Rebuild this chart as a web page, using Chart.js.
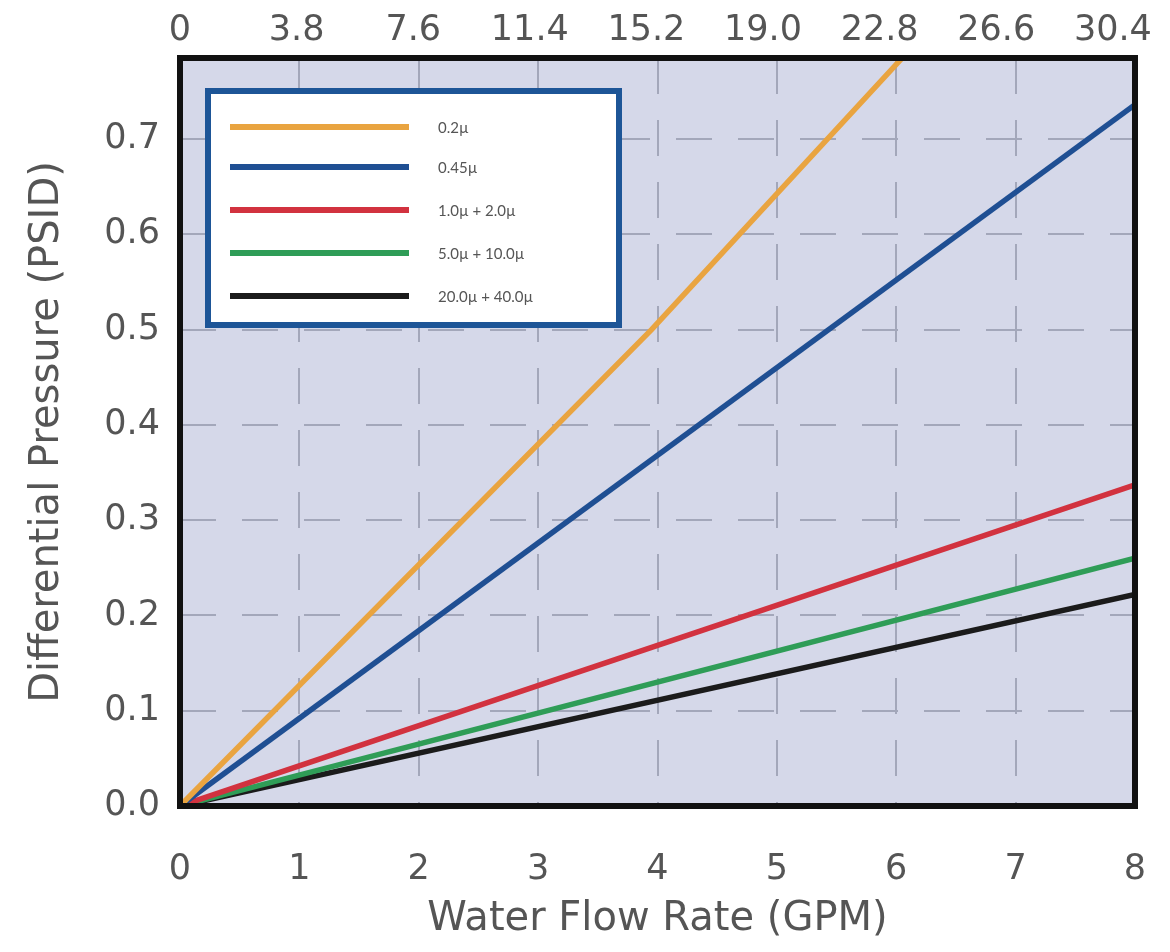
<!DOCTYPE html>
<html>
<head>
<meta charset="utf-8">
<script src="https://cdn.jsdelivr.net/npm/chart.js@4"></script>
<style>
  html, body { margin: 0; padding: 0; background: #fff; }
  #wrap { width: 1170px; height: 952px; }
</style>
</head>
<body>
<div id="wrap"><canvas id="myChart" width="1170" height="952"></canvas></div>
<script>
// data
var seriesNames = ["0.2\u00b5", "0.45\u00b5", "1.0\u00b5 + 2.0\u00b5", "5.0\u00b5 + 10.0\u00b5", "20.0\u00b5 + 40.0\u00b5"];
var seriesColors = ["#e9a440", "#1f4f93", "#d2323f", "#2f9d57", "#1b1b1b"];
var flowGpm = [[0, 3.95, 6.05], [0, 8], [0, 8], [0, 8], [0, 8]];
var pressurePsid = [[0, 0.5, 0.785], [0, 0.736], [0, 0.337], [0, 0.26], [0, 0.222]];
var gpmTicks = [0, 1, 2, 3, 4, 5, 6, 7, 8];
var lpmLabels = ["0", "3.8", "7.6", "11.4", "15.2", "19.0", "22.8", "26.6", "30.4"];
var psidTicks = [0, 0.1, 0.2, 0.3, 0.4, 0.5, 0.6, 0.7];

var textColor = "#555555";
var gridColor = "#a3a7ba";
var fontFamily = "'DejaVu Sans', Lato, sans-serif";

// build datasets
var datasets = [];
for (var i = 0; i < seriesNames.length; i++) {
    var pts = [];
    for (var j = 0; j < flowGpm[i].length; j++) {
        pts.push({ x: flowGpm[i][j], y: pressurePsid[i][j] });
    }
    datasets.push({
        label: seriesNames[i],
        data: pts,
        borderColor: seriesColors[i],
        backgroundColor: seriesColors[i],
        borderWidth: 5.5,
        pointRadius: 0,
        tension: 0,
        fill: false
    });
}

// plot background + thick frame + boxed legend
var framePlugin = {
    id: "frame",
    beforeDraw: function (chart) {
        var a = chart.chartArea, ctx = chart.ctx;
        ctx.save();
        ctx.fillStyle = "#d5d8e9";
        ctx.fillRect(a.left, a.top, a.right - a.left, a.bottom - a.top);
        ctx.restore();
    },
    afterDraw: function (chart) {
        var a = chart.chartArea, ctx = chart.ctx;
        ctx.save();
        ctx.strokeStyle = "#111";
        ctx.lineWidth = 6;
        ctx.strokeRect(a.left, a.top, a.right - a.left, a.bottom - a.top);

        // legend box
        var bx = 208, by = 91, bw = 411, bh = 234;
        ctx.fillStyle = "#ffffff";
        ctx.fillRect(bx, by, bw, bh);
        ctx.strokeStyle = "#1d5597";
        ctx.lineWidth = 6;
        ctx.strokeRect(bx, by, bw, bh);

        var rows = [127, 167, 210, 253, 296];
        ctx.font = "15px Lato, 'Open Sans', sans-serif";
        ctx.textBaseline = "middle";
        chart.data.datasets.forEach(function (ds, k) {
            ctx.strokeStyle = ds.borderColor;
            ctx.lineWidth = 6;
            ctx.beginPath();
            ctx.moveTo(230, rows[k]);
            ctx.lineTo(409, rows[k]);
            ctx.stroke();
            ctx.fillStyle = "#555";
            ctx.fillText(ds.label, 438, rows[k] + 1);
        });
        ctx.restore();
    }
};

var tickFont = { family: fontFamily, size: 35 };
var titleFont = { family: fontFamily, size: 40 };

function noOverhang(scale) {
    scale.paddingLeft = 0;
    scale.paddingRight = 0;
}

var ctx = document.getElementById("myChart").getContext("2d");
var myChart = new Chart(ctx, {
    type: "line",
    data: { datasets: datasets },
    options: {
        responsive: false,
        animation: false,
        layout: { padding: { left: 0, right: 35, top: 0, bottom: 0 } },
        plugins: {
            legend: { display: false },
            tooltip: { enabled: false }
        },
        scales: {
            x: {
                type: "linear",
                position: "bottom",
                min: 0,
                max: 8,
                afterBuildTicks: function (scale) {
                    scale.ticks = gpmTicks.map(function (v) { return { value: v }; });
                },
                afterFit: function (scale) { scale.height = 146; noOverhang(scale); },
                ticks: {
                    color: textColor,
                    font: tickFont,
                    padding: 43,
                    maxRotation: 0,
                    callback: function (v) { return String(v); }
                },
                grid: {
                    color: gridColor,
                    lineWidth: 2,
                    drawTicks: false
                },
                border: { display: false, dash: [36, 26] },
                title: {
                    display: true,
                    text: "Water Flow Rate (GPM)",
                    color: textColor,
                    font: titleFont,
                    padding: { top: 0, bottom: 8 }
                }
            },
            x2: {
                type: "linear",
                position: "top",
                min: 0,
                max: 8.19,
                afterBuildTicks: function (scale) {
                    scale.ticks = gpmTicks.map(function (v) { return { value: v }; });
                },
                afterFit: function (scale) { scale.height = 58; noOverhang(scale); },
                ticks: {
                    color: textColor,
                    font: tickFont,
                    padding: 6,
                    maxRotation: 0,
                    callback: function (v, idx) { return lpmLabels[idx]; }
                },
                grid: { display: false, drawTicks: false },
                border: { display: false }
            },
            y: {
                type: "linear",
                min: 0,
                max: 0.785,
                afterBuildTicks: function (scale) {
                    scale.ticks = psidTicks.map(function (v) { return { value: v }; });
                },
                afterFit: function (scale) { scale.width = 180; },
                ticks: {
                    color: textColor,
                    font: tickFont,
                    padding: 20,
                    callback: function (v) { return v.toFixed(1); }
                },
                grid: {
                    color: gridColor,
                    lineWidth: 2,
                    drawTicks: false
                },
                border: { display: false, dash: [36, 26] },
                title: {
                    display: true,
                    text: "Differential Pressure (PSID)",
                    color: textColor,
                    font: titleFont,
                    padding: { top: 24, bottom: 0 }
                }
            }
        }
    },
    plugins: [framePlugin]
});
</script>
</body>
</html>
